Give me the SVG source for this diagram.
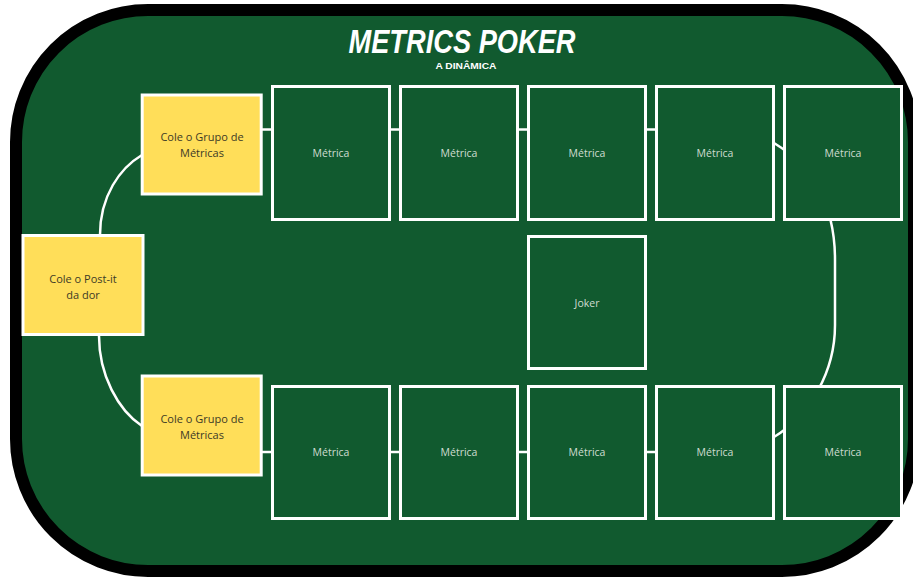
<svg xmlns="http://www.w3.org/2000/svg" width="913" height="577" viewBox="0 0 913 577">
<style>
.card{fill:#115A2F;stroke:#ffffff;stroke-width:3}
.note{fill:#FFDE59;stroke:#ffffff;stroke-width:3}
.mt{font-family:"Open Sans","Liberation Sans",sans-serif;font-size:10.5px;fill:#cfdccf;text-anchor:middle}
.nt{font-family:"Open Sans","Liberation Sans",sans-serif;font-size:11px;fill:#3d3a26;text-anchor:middle}
.conn{fill:none;stroke:#ffffff;stroke-width:2.5}
</style>
<rect width="913" height="577" fill="#ffffff"/>
<g id="table">
<rect x="16" y="10" width="898" height="561" rx="132" ry="132" fill="#115A2F" stroke="#000000" stroke-width="12"/>
</g>
<g id="title">
<text x="462" y="53" font-family="Liberation Sans, sans-serif" font-size="34" font-weight="bold" font-style="italic" fill="#ffffff" text-anchor="middle" textLength="227" lengthAdjust="spacingAndGlyphs">METRICS POKER</text>
<text x="466" y="69" font-family="Liberation Sans, sans-serif" font-size="8.5" font-weight="bold" fill="#ffffff" text-anchor="middle" textLength="61" lengthAdjust="spacingAndGlyphs">A DINÂMICA</text>
</g>
<g id="connectors">
<path class="conn" d="M262,129.5H272 M390,129.5H400 M518,129.5H528 M646,129.5H656"/>
<path class="conn" d="M262,452H272 M390,452H400 M518,452H528 M646,452H656"/>
<path class="conn" d="M142,155 C120,168 100,196 100,235"/>
<path class="conn" d="M99,336 C99,375 118,410 142,426"/>
<path class="conn" d="M774,143 C810,165 835,200 835,260 L835,325 C835,372 810,415 774,437"/>
</g>
<g id="note-top">
<rect class="note" x="142.2" y="95" width="119" height="99"/>
<text class="nt" x="202" y="141">Cole o Grupo de</text>
<text class="nt" x="202" y="157">Métricas</text>
</g>
<g id="note-left">
<rect class="note" x="23" y="235.5" width="120" height="99"/>
<text class="nt" x="83" y="283">Cole o Post-it</text>
<text class="nt" x="83" y="299">da dor</text>
</g>
<g id="note-bottom">
<rect class="note" x="142.2" y="376" width="119" height="99"/>
<text class="nt" x="202" y="423">Cole o Grupo de</text>
<text class="nt" x="202" y="439">Métricas</text>
</g>
<g id="top-1"><rect class="card" x="272.5" y="86.5" width="117" height="133"/><text class="mt" x="331" y="157">Métrica</text></g>
<g id="top-2"><rect class="card" x="400.5" y="86.5" width="117" height="133"/><text class="mt" x="459" y="157">Métrica</text></g>
<g id="top-3"><rect class="card" x="528.5" y="86.5" width="117" height="133"/><text class="mt" x="587" y="157">Métrica</text></g>
<g id="top-4"><rect class="card" x="656.5" y="86.5" width="117" height="133"/><text class="mt" x="715" y="157">Métrica</text></g>
<g id="top-5"><rect class="card" x="784.5" y="86.5" width="117" height="133"/><text class="mt" x="843" y="157">Métrica</text></g>
<g id="joker"><rect class="card" x="528.5" y="236.5" width="117" height="132"/><text class="mt" x="587" y="307">Joker</text></g>
<g id="bottom-1"><rect class="card" x="272.5" y="386.5" width="117" height="132"/><text class="mt" x="331" y="456">Métrica</text></g>
<g id="bottom-2"><rect class="card" x="400.5" y="386.5" width="117" height="132"/><text class="mt" x="459" y="456">Métrica</text></g>
<g id="bottom-3"><rect class="card" x="528.5" y="386.5" width="117" height="132"/><text class="mt" x="587" y="456">Métrica</text></g>
<g id="bottom-4"><rect class="card" x="656.5" y="386.5" width="117" height="132"/><text class="mt" x="715" y="456">Métrica</text></g>
<g id="bottom-5"><rect class="card" x="784.5" y="386.5" width="117" height="132"/><text class="mt" x="843" y="456">Métrica</text></g>
</svg>
